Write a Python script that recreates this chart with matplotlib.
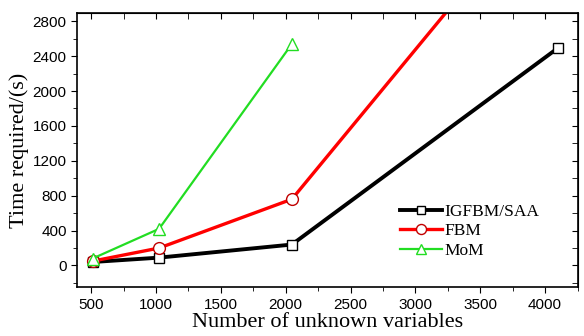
import matplotlib.pyplot as plt

n_unknowns = [512, 1024, 2048, 4096]
t_igfbm = [40, 90, 240, 2490]
t_fbm = [50, 200, 760, 4450]
n_mom = [512, 1024, 2048]
t_mom = [80, 420, 2540]

fig = plt.figure(figsize=(5.84, 3.36), dpi=100)
ax = fig.add_axes([0.132, 0.145, 0.858, 0.815])

ax.plot(n_unknowns, t_igfbm, color='black', lw=2.8, marker='s', ms=7.5,
        mfc='white', mec='black', mew=1.0, label='IGFBM/SAA')
ax.plot(n_unknowns, t_fbm, color='red', lw=2.4, marker='o', ms=8.5,
        mfc='white', mec='#c00000', mew=1.0, label='FBM')
ax.plot(n_mom, t_mom, color='#22dd22', lw=1.6, marker='^', ms=9,
        mfc='white', mec='#22dd22', mew=1.0, label='MoM')

ax.set_xlim(392, 4255)
ax.set_ylim(-250, 2890)
ax.set_xticks(range(500, 4001, 500))
ax.set_xticks(range(750, 4251, 500), minor=True)
ax.set_yticks(range(0, 2801, 400))
ax.set_yticks(range(-200, 2801, 200), minor=True)

ax.tick_params(which='both', direction='out', top=False, right=False,
               labelsize=11)
ax.tick_params(which='major', length=4)
ax.tick_params(which='minor', length=3)
for lbl in ax.get_xticklabels() + ax.get_yticklabels():
    lbl.set_family('Liberation Sans')
for s in ax.spines.values():
    s.set_linewidth(1.2)

# inward ticks on the opposite spines
sec = ax.secondary_xaxis('top')
sec.set_xticks(range(500, 4001, 500))
sec.set_xticks(range(750, 4251, 500), minor=True)
sec.tick_params(which='both', direction='in', labeltop=False, length=4)
sec.set_xticklabels([])
secy = ax.secondary_yaxis('right')
secy.set_yticks(range(0, 2801, 400))
secy.set_yticks(range(-200, 2801, 200), minor=True)
secy.tick_params(which='both', direction='in', length=4)
secy.set_yticklabels([])

ax.set_xlabel('Number of unknown variables', family='Liberation Serif',
              fontsize=16, labelpad=1)
ax.set_ylabel('Time required/(s)', family='Liberation Serif', fontsize=16,
              labelpad=3)

ax.legend(loc='center left', bbox_to_anchor=(0.645, 0.205), frameon=False,
          prop={'family': 'Liberation Serif', 'size': 12.5}, markerscale=0.85,
          handlelength=2.4, handletextpad=0.15, labelspacing=0.2,
          borderpad=0, borderaxespad=0)

fig.savefig('out.png', dpi=100)
